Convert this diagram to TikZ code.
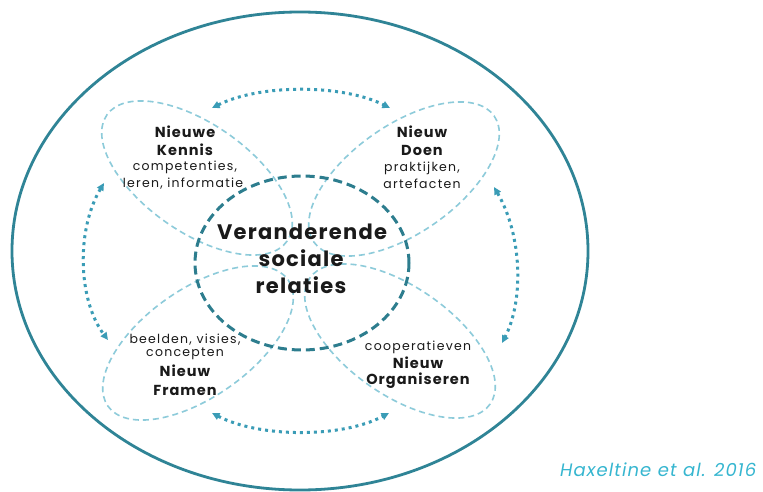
\documentclass[tikz,border=0pt]{standalone}
\usepackage{fontspec}
\setmainfont{Poppins}
\usetikzlibrary{arrows.meta}
\definecolor{outerc}{HTML}{2F8496}
\definecolor{centerc}{HTML}{2D7D8E}
\definecolor{petalc}{HTML}{8DCBDA}
\definecolor{arrowc}{HTML}{3A9CB6}
\definecolor{citec}{HTML}{36B6D0}
\definecolor{txt}{HTML}{1A1A1A}
\tikzset{
  outerring/.style={draw=outerc, line width=2.8pt},
  centerring/.style={draw=centerc, line width=3pt, dash pattern=on 9pt off 5pt},
  petal/.style={draw=petalc, line width=1.6pt, dash pattern=on 6pt off 4pt},
  flow/.style={draw=arrowc, line width=3pt, dash pattern=on 3pt off 4pt,
     {Triangle[length=7.5pt,width=7pt]}-{Triangle[length=7.5pt,width=7pt]}},
  bigtxt/.style={font=\fontsize{21}{24}\selectfont\bfseries\addfontfeatures{LetterSpace=6}, text=txt, inner sep=0pt},
  headtxt/.style={font=\fontsize{14.5}{17}\selectfont\bfseries\addfontfeatures{LetterSpace=7}, text=txt, inner sep=0pt},
  subtxt/.style={font=\fontsize{12.5}{15}\selectfont\addfontfeatures{LetterSpace=10}, text=txt, inner sep=0pt},
  citetxt/.style={font=\fontsize{18}{21}\selectfont\itshape\addfontfeatures{LetterSpace=6}, text=citec, inner sep=0pt, anchor=west}
}
\begin{document}
\begin{tikzpicture}[x=1pt,y=-1pt]
\useasboundingbox (0,0) rectangle (763,492);
\fill[white] (0,0) rectangle (763,492);
% outer ring
\draw[outerring] (300,251) ellipse [x radius=288, y radius=239];
% petals
\draw[petal, rotate around={-35:(197,178)}] (197,178) ellipse [x radius=110, y radius=54];
\draw[petal, rotate around={35:(404,179)}] (404,179) ellipse [x radius=110, y radius=54];
\draw[petal, rotate around={35:(198,343)}] (198,343) ellipse [x radius=110, y radius=54];
\draw[petal, rotate around={-35:(400,341)}] (400,341) ellipse [x radius=110, y radius=54];
% center ring
\draw[centerring] (302,263) ellipse [x radius=107, y radius=87];
% arrow end points
\coordinate (ta) at (212,108);
\coordinate (tb) at (390,108);
\coordinate (ba) at (212,413);
\coordinate (bb) at (389,413);
\coordinate (la) at (104,183);
\coordinate (lb) at (108,340);
\coordinate (ra) at (494,187);
\coordinate (rb) at (502,343);
\draw[flow] (ta) .. controls (260,84) and (342,84) .. (tb);
\draw[flow] (ba) .. controls (260,438) and (342,438) .. (bb);
\draw[flow] (la) .. controls (76,230) and (78,300) .. (lb);
\draw[flow] (ra) .. controls (522,235) and (524,300) .. (rb);
% center text
\node[bigtxt] (c1) at (302,232) {Veranderende};
\node[bigtxt] (c2) at (301,258) {sociale};
\node[bigtxt] (c3) at (301,285) {relaties};
% top-left
\node[headtxt] (k1) at (185,132) {Nieuwe};
\node[headtxt] (k2) at (185,150) {Kennis};
\node[subtxt] (k3) at (185,167) {competenties,};
\node[subtxt] (k4) at (183,184) {leren, informatie};
% top-right
\node[headtxt] (d1) at (422,132) {Nieuw};
\node[headtxt] (d2) at (422,150) {Doen};
\node[subtxt] (d3) at (422,168) {praktijken,};
\node[subtxt] (d4) at (422,184) {artefacten};
% bottom-left
\node[subtxt] (f1) at (185,340) {beelden, visies,};
\node[subtxt] (f2) at (185,354) {concepten};
\node[headtxt] (f3) at (185,371) {Nieuw};
\node[headtxt] (f4) at (185,390) {Framen};
% bottom-right
\node[subtxt] (o1) at (418,347) {cooperatieven};
\node[headtxt] (o2) at (418,363) {Nieuw};
\node[headtxt] (o3) at (418,381) {Organiseren};
% citation
\node[citetxt] (cite) at (560,470) {Haxeltine et al. 2016};
\end{tikzpicture}
\end{document}
